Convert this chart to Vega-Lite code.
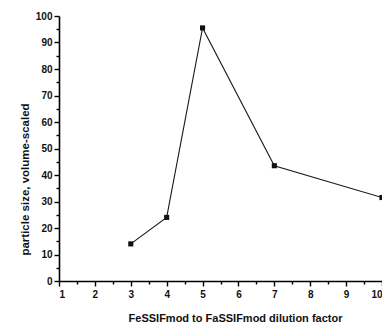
{
  "$schema": "https://vega.github.io/schema/vega-lite/v6.json",
  "autosize": {"type": "none"},
  "padding": {"left": 59, "top": 16, "right": 0, "bottom": 41},
  "width": 323,
  "height": 265,
  "background": "white",
  "config": {
    "view": {"stroke": null},
    "axis": {
      "labelFont": "Liberation Sans",
      "labelFontWeight": "bold",
      "labelFontSize": 10,
      "labelColor": "#111",
      "titleFont": "Liberation Sans",
      "titleFontWeight": "bold",
      "titleColor": "#111",
      "domainColor": "#000",
      "domainWidth": 1.6,
      "tickColor": "#000",
      "tickWidth": 1.4,
      "grid": false
    }
  },
  "data": {
    "values": [
      {"factor": 3, "size": 14},
      {"factor": 4, "size": 24},
      {"factor": 5, "size": 95.5},
      {"factor": 7, "size": 43.5},
      {"factor": 10, "size": 31.5}
    ]
  },
  "resolve": {"axis": {"x": "independent", "y": "independent"}},
  "layer": [
    {
      "mark": {"type": "line", "color": "#1a1a1a", "strokeWidth": 1.1},
      "encoding": {
        "x": {"field": "factor", "type": "quantitative", "scale": {"domain": [1, 10], "nice": false},
          "axis": {"values": [1,2,3,4,5,6,7,8,9,10], "tickSize": 5, "labelPadding": 3, "title": "FeSSIFmod to FaSSIFmod dilution factor", "titleFontSize": 11, "titlePadding": 13, "titleX": 176, "orient": "bottom"}},
        "y": {"field": "size", "type": "quantitative", "scale": {"domain": [0, 100], "nice": false},
          "axis": {"values": [0,10,20,30,40,50,60,70,80,90,100], "tickSize": 5, "labelPadding": 2, "title": "particle size, volume-scaled", "titleFontSize": 11.5, "titlePadding": 5, "titleY": 163, "orient": "left"}}
      }
    },
    {
      "mark": {"type": "square", "color": "#111", "opacity": 1, "size": 26},
      "encoding": {
        "x": {"field": "factor", "type": "quantitative", "scale": {"domain": [1, 10], "nice": false},
          "axis": {"values": [1.5,2.5,3.5,4.5,5.5,6.5,7.5,8.5,9.5], "tickSize": 3, "labels": false, "domain": false, "title": null, "orient": "bottom"}},
        "y": {"field": "size", "type": "quantitative", "scale": {"domain": [0, 100], "nice": false},
          "axis": {"values": [5,15,25,35,45,55,65,75,85,95], "tickSize": 3, "labels": false, "domain": false, "title": null, "orient": "left"}}
      }
    }
  ]
}
